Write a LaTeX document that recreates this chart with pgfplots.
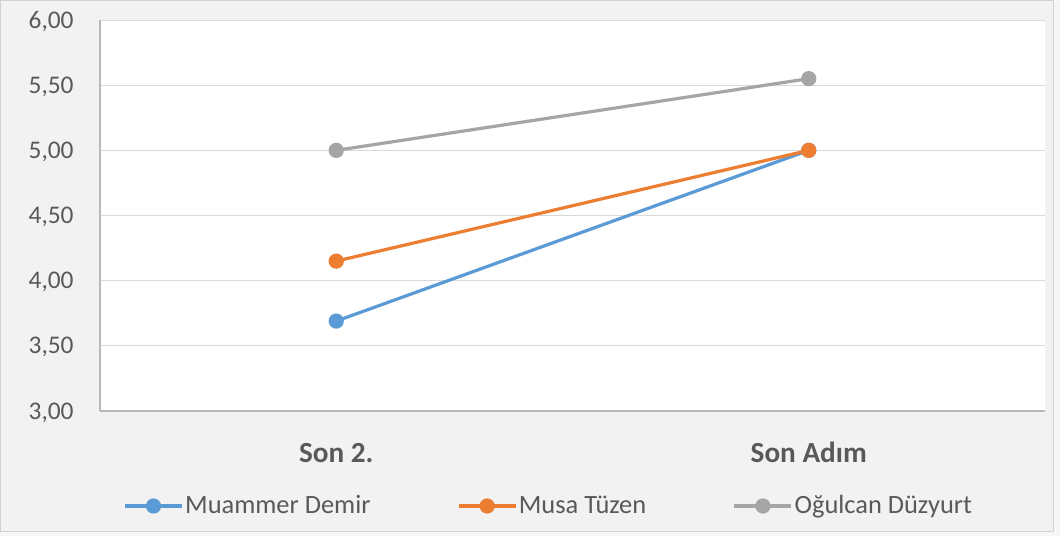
\documentclass[border=0pt]{standalone}
\usepackage{fontspec}
\setmainfont{Carlito}
\usepackage{pgfplots}
\pgfplotsset{compat=1.18}
\definecolor{cblue}{HTML}{5B9BD5}
\definecolor{corange}{HTML}{ED7D31}
\definecolor{cgray}{HTML}{A5A5A5}
\definecolor{txt}{HTML}{595959}
\definecolor{grid}{HTML}{D9D9D9}
\definecolor{chartbg}{HTML}{F2F2F2}
\begin{document}
\begin{tikzpicture}
\fill[chartbg!70!white] (-50pt,-62.5pt) rectangle (480pt,205.5pt);
\filldraw[fill=chartbg, draw=black!18, line width=0.5pt] (-49.5pt,-60pt) rectangle (476.5pt,205pt);
\begin{axis}[
  at={(0pt,0pt)}, anchor=south west,
  scale only axis,
  width=472.5pt, height=195.5pt,
  xmin=0, xmax=2, ymin=3, ymax=6,
  xtick={0.5,1.5}, xticklabels={Son 2., Son Adım},
  ytick={3,3.5,4,4.5,5,5.5,6},
  major tick length=0pt,
  axis x line*=bottom, axis y line*=left,
  axis line style={draw=black!28, line width=0.6pt},
  ymajorgrids, grid style={draw=grid, line width=0.5pt},
  axis background/.style={fill=white},
  yticklabel style={anchor=base east, inner sep=0pt, xshift=-13pt, yshift=-4pt,
    font=\fontsize{12.7}{15}\selectfont, text=txt,
    /pgf/number format/.cd, fixed, fixed zerofill, precision=2, use comma, assume math mode=true},
  xticklabel style={anchor=base, inner sep=0pt, yshift=-25.5pt,
    font=\fontsize{14.6}{17}\selectfont\bfseries, text=txt},
  legend columns=3,
  legend style={at={(axis description cs:0,0)}, anchor=west, xshift=11.5pt, yshift=-47.5pt,
    draw=none, fill=none, inner sep=0pt,
    font=\fontsize{13.2}{16}\selectfont, text=txt,
    nodes={inner xsep=0.8pt, inner ysep=0pt},
    /tikz/every odd column/.append style={column sep=0pt},
    /tikz/every even column/.append style={column sep=42.5pt}},
  legend cell align=left,
  legend image code/.code={\draw[mark repeat=2,mark phase=2,#1] plot coordinates {(0pt,0pt)(14.25pt,0pt)(28.5pt,0pt)};},
  every axis plot/.append style={line width=1.6pt, mark=*, mark size=3pt},
  clip=false,
]
\addplot[color=cblue, mark options={fill=cblue, draw=cblue}] coordinates {(0.5,3.69) (1.5,5.00)};
\addlegendentry{Muammer Demir}
\addplot[color=corange, mark options={fill=corange, draw=corange}] coordinates {(0.5,4.15) (1.5,5.00)};
\addlegendentry{Musa Tüzen}
\addplot[color=cgray, mark options={fill=cgray, draw=cgray}] coordinates {(0.5,5.00) (1.5,5.55)};
\addlegendentry{Oğulcan Düzyurt}
\end{axis}
\end{tikzpicture}
\end{document}
